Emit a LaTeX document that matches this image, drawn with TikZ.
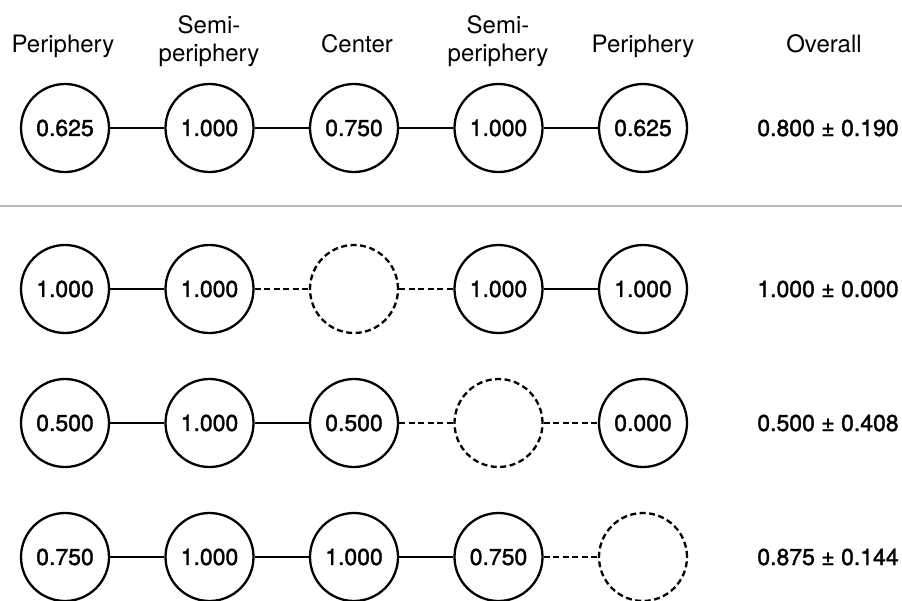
\documentclass[tikz,border=0pt]{standalone}
\usepackage{fontspec}
\setmainfont{TeX Gyre Heros}
\newfontfamily\numfont[FakeBold=1.5]{TeX Gyre Heros}
\begin{document}
\begin{tikzpicture}[x=1pt,y=-1pt,
  txt/.style={font=\fontsize{24}{28}\selectfont, inner sep=0pt},
  hdr/.style={txt, anchor=base},
  val/.style={font=\numfont\fontsize{23}{28}\selectfont, inner sep=0pt, anchor=base},
  cell/.style={circle, draw=black, line width=2.3pt, minimum size=88pt, inner sep=0pt,
               font=\numfont\fontsize{23}{28}\selectfont},
  gap/.style={cell, dash pattern=on 6pt off 3.5pt},
  link/.style={line width=2.3pt},
  dlink/.style={link, dash pattern=on 6pt off 3.5pt}]
\useasboundingbox (0,0) rectangle (902,600);

% column headings
\node[hdr] (h1)  at (63,52) {Periphery};
\node[hdr] (h2a) at (209,33) {Semi-};
\node[hdr] (h2b) at (209,61) {periphery};
\node[hdr] (h3)  at (357,52) {Center};
\node[hdr] (h4a) at (498,33) {Semi-};
\node[hdr] (h4b) at (498,61) {periphery};
\node[hdr] (h5)  at (643,52) {Periphery};
\node[hdr] (h6)  at (824,52) {Overall};

% separator
\coordinate (sepL) at (0,206);
\coordinate (sepR) at (902,206);
\draw[line width=1.2pt, draw=black!28] (sepL) -- (sepR);

% row 1
\node[cell] (a1) at (65,128) {0.625};
\node[cell] (a2) at (209.5,128) {1.000};
\node[cell] (a3) at (354,128) {0.750};
\node[cell] (a4) at (498.5,128) {1.000};
\node[cell] (a5) at (643,128) {0.625};
\draw[link] (a1) -- (a2);
\draw[link] (a2) -- (a3);
\draw[link] (a3) -- (a4);
\draw[link] (a4) -- (a5);
\node[val] (av) at (828,136) {0.800 ± 0.190};

% row 2
\node[cell] (b1) at (65,289) {1.000};
\node[cell] (b2) at (209.5,289) {1.000};
\node[gap]  (b3) at (354,289) {};
\node[cell] (b4) at (498.5,289) {1.000};
\node[cell] (b5) at (643,289) {1.000};
\draw[link] (b1) -- (b2);
\draw[dlink] (b2) -- (b3);
\draw[dlink] (b3) -- (b4);
\draw[link] (b4) -- (b5);
\node[val] (bv) at (828,297) {1.000 ± 0.000};

% row 3
\node[cell] (c1) at (65,423) {0.500};
\node[cell] (c2) at (209.5,423) {1.000};
\node[cell] (c3) at (354,423) {0.500};
\node[gap]  (c4) at (498.5,423) {};
\node[cell] (c5) at (643,423) {0.000};
\draw[link] (c1) -- (c2);
\draw[link] (c2) -- (c3);
\draw[dlink] (c3) -- (c4);
\draw[dlink] (c4) -- (c5);
\node[val] (cv) at (828,431) {0.500 ± 0.408};

% row 4
\node[cell] (d1) at (65,557) {0.750};
\node[cell] (d2) at (209.5,557) {1.000};
\node[cell] (d3) at (354,557) {1.000};
\node[cell] (d4) at (498.5,557) {0.750};
\node[gap]  (d5) at (643,557) {};
\draw[link] (d1) -- (d2);
\draw[link] (d2) -- (d3);
\draw[link] (d3) -- (d4);
\draw[dlink] (d4) -- (d5);
\node[val] (dv) at (828,565) {0.875 ± 0.144};
\end{tikzpicture}
\end{document}
